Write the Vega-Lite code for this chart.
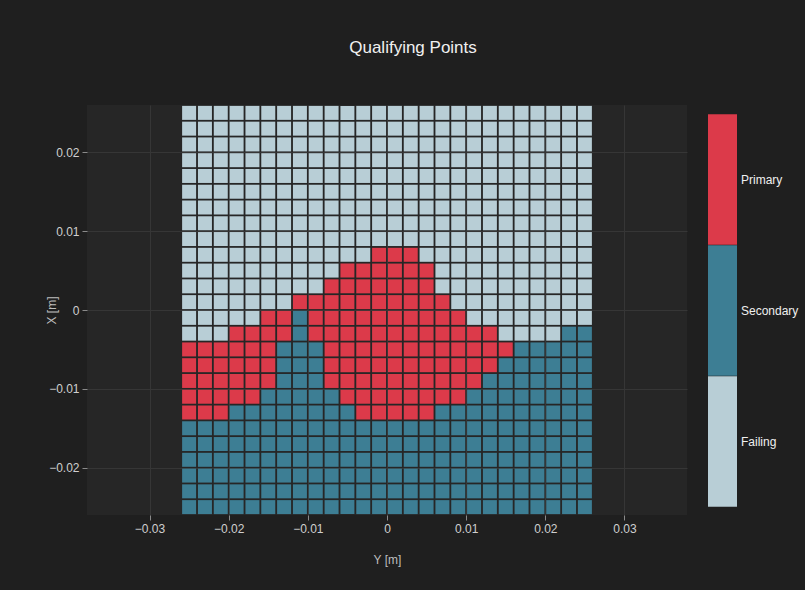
{
"$schema": "https://vega.github.io/schema/vega-lite/v6.json",
"autosize": "none",
"width": 600,
"height": 410,
"padding": {"left": 87, "top": 105, "right": 118, "bottom": 75},
"background": "#1f1f1f",
"title": {"text": "Qualifying Points", "fontSize": 17, "color": "#f0f0f0", "font": "Liberation Sans", "fontWeight": "normal", "anchor": "middle", "frame": "group", "dx": 26, "offset": 48},
"config": {"view": {"fill": "#262626", "stroke": null}, "font": "Liberation Sans"},
"data": {"values": [
{"Y":-0.025,"X":-0.025,"status":"Secondary"},{"Y":-0.023,"X":-0.025,"status":"Secondary"},{"Y":-0.021,"X":-0.025,"status":"Secondary"},{"Y":-0.019,"X":-0.025,"status":"Secondary"},{"Y":-0.017,"X":-0.025,"status":"Secondary"},{"Y":-0.015,"X":-0.025,"status":"Secondary"},{"Y":-0.013,"X":-0.025,"status":"Secondary"},{"Y":-0.011,"X":-0.025,"status":"Secondary"},{"Y":-0.009,"X":-0.025,"status":"Secondary"},{"Y":-0.007,"X":-0.025,"status":"Secondary"},{"Y":-0.005,"X":-0.025,"status":"Secondary"},{"Y":-0.003,"X":-0.025,"status":"Secondary"},{"Y":-0.001,"X":-0.025,"status":"Secondary"},{"Y":0.001,"X":-0.025,"status":"Secondary"},{"Y":0.003,"X":-0.025,"status":"Secondary"},{"Y":0.005,"X":-0.025,"status":"Secondary"},{"Y":0.007,"X":-0.025,"status":"Secondary"},{"Y":0.009,"X":-0.025,"status":"Secondary"},{"Y":0.011,"X":-0.025,"status":"Secondary"},{"Y":0.013,"X":-0.025,"status":"Secondary"},{"Y":0.015,"X":-0.025,"status":"Secondary"},{"Y":0.017,"X":-0.025,"status":"Secondary"},{"Y":0.019,"X":-0.025,"status":"Secondary"},{"Y":0.021,"X":-0.025,"status":"Secondary"},{"Y":0.023,"X":-0.025,"status":"Secondary"},{"Y":0.025,"X":-0.025,"status":"Secondary"},
{"Y":-0.025,"X":-0.023,"status":"Secondary"},{"Y":-0.023,"X":-0.023,"status":"Secondary"},{"Y":-0.021,"X":-0.023,"status":"Secondary"},{"Y":-0.019,"X":-0.023,"status":"Secondary"},{"Y":-0.017,"X":-0.023,"status":"Secondary"},{"Y":-0.015,"X":-0.023,"status":"Secondary"},{"Y":-0.013,"X":-0.023,"status":"Secondary"},{"Y":-0.011,"X":-0.023,"status":"Secondary"},{"Y":-0.009,"X":-0.023,"status":"Secondary"},{"Y":-0.007,"X":-0.023,"status":"Secondary"},{"Y":-0.005,"X":-0.023,"status":"Secondary"},{"Y":-0.003,"X":-0.023,"status":"Secondary"},{"Y":-0.001,"X":-0.023,"status":"Secondary"},{"Y":0.001,"X":-0.023,"status":"Secondary"},{"Y":0.003,"X":-0.023,"status":"Secondary"},{"Y":0.005,"X":-0.023,"status":"Secondary"},{"Y":0.007,"X":-0.023,"status":"Secondary"},{"Y":0.009,"X":-0.023,"status":"Secondary"},{"Y":0.011,"X":-0.023,"status":"Secondary"},{"Y":0.013,"X":-0.023,"status":"Secondary"},{"Y":0.015,"X":-0.023,"status":"Secondary"},{"Y":0.017,"X":-0.023,"status":"Secondary"},{"Y":0.019,"X":-0.023,"status":"Secondary"},{"Y":0.021,"X":-0.023,"status":"Secondary"},{"Y":0.023,"X":-0.023,"status":"Secondary"},{"Y":0.025,"X":-0.023,"status":"Secondary"},
{"Y":-0.025,"X":-0.021,"status":"Secondary"},{"Y":-0.023,"X":-0.021,"status":"Secondary"},{"Y":-0.021,"X":-0.021,"status":"Secondary"},{"Y":-0.019,"X":-0.021,"status":"Secondary"},{"Y":-0.017,"X":-0.021,"status":"Secondary"},{"Y":-0.015,"X":-0.021,"status":"Secondary"},{"Y":-0.013,"X":-0.021,"status":"Secondary"},{"Y":-0.011,"X":-0.021,"status":"Secondary"},{"Y":-0.009,"X":-0.021,"status":"Secondary"},{"Y":-0.007,"X":-0.021,"status":"Secondary"},{"Y":-0.005,"X":-0.021,"status":"Secondary"},{"Y":-0.003,"X":-0.021,"status":"Secondary"},{"Y":-0.001,"X":-0.021,"status":"Secondary"},{"Y":0.001,"X":-0.021,"status":"Secondary"},{"Y":0.003,"X":-0.021,"status":"Secondary"},{"Y":0.005,"X":-0.021,"status":"Secondary"},{"Y":0.007,"X":-0.021,"status":"Secondary"},{"Y":0.009,"X":-0.021,"status":"Secondary"},{"Y":0.011,"X":-0.021,"status":"Secondary"},{"Y":0.013,"X":-0.021,"status":"Secondary"},{"Y":0.015,"X":-0.021,"status":"Secondary"},{"Y":0.017,"X":-0.021,"status":"Secondary"},{"Y":0.019,"X":-0.021,"status":"Secondary"},{"Y":0.021,"X":-0.021,"status":"Secondary"},{"Y":0.023,"X":-0.021,"status":"Secondary"},{"Y":0.025,"X":-0.021,"status":"Secondary"},
{"Y":-0.025,"X":-0.019,"status":"Secondary"},{"Y":-0.023,"X":-0.019,"status":"Secondary"},{"Y":-0.021,"X":-0.019,"status":"Secondary"},{"Y":-0.019,"X":-0.019,"status":"Secondary"},{"Y":-0.017,"X":-0.019,"status":"Secondary"},{"Y":-0.015,"X":-0.019,"status":"Secondary"},{"Y":-0.013,"X":-0.019,"status":"Secondary"},{"Y":-0.011,"X":-0.019,"status":"Secondary"},{"Y":-0.009,"X":-0.019,"status":"Secondary"},{"Y":-0.007,"X":-0.019,"status":"Secondary"},{"Y":-0.005,"X":-0.019,"status":"Secondary"},{"Y":-0.003,"X":-0.019,"status":"Secondary"},{"Y":-0.001,"X":-0.019,"status":"Secondary"},{"Y":0.001,"X":-0.019,"status":"Secondary"},{"Y":0.003,"X":-0.019,"status":"Secondary"},{"Y":0.005,"X":-0.019,"status":"Secondary"},{"Y":0.007,"X":-0.019,"status":"Secondary"},{"Y":0.009,"X":-0.019,"status":"Secondary"},{"Y":0.011,"X":-0.019,"status":"Secondary"},{"Y":0.013,"X":-0.019,"status":"Secondary"},{"Y":0.015,"X":-0.019,"status":"Secondary"},{"Y":0.017,"X":-0.019,"status":"Secondary"},{"Y":0.019,"X":-0.019,"status":"Secondary"},{"Y":0.021,"X":-0.019,"status":"Secondary"},{"Y":0.023,"X":-0.019,"status":"Secondary"},{"Y":0.025,"X":-0.019,"status":"Secondary"},
{"Y":-0.025,"X":-0.017,"status":"Secondary"},{"Y":-0.023,"X":-0.017,"status":"Secondary"},{"Y":-0.021,"X":-0.017,"status":"Secondary"},{"Y":-0.019,"X":-0.017,"status":"Secondary"},{"Y":-0.017,"X":-0.017,"status":"Secondary"},{"Y":-0.015,"X":-0.017,"status":"Secondary"},{"Y":-0.013,"X":-0.017,"status":"Secondary"},{"Y":-0.011,"X":-0.017,"status":"Secondary"},{"Y":-0.009,"X":-0.017,"status":"Secondary"},{"Y":-0.007,"X":-0.017,"status":"Secondary"},{"Y":-0.005,"X":-0.017,"status":"Secondary"},{"Y":-0.003,"X":-0.017,"status":"Secondary"},{"Y":-0.001,"X":-0.017,"status":"Secondary"},{"Y":0.001,"X":-0.017,"status":"Secondary"},{"Y":0.003,"X":-0.017,"status":"Secondary"},{"Y":0.005,"X":-0.017,"status":"Secondary"},{"Y":0.007,"X":-0.017,"status":"Secondary"},{"Y":0.009,"X":-0.017,"status":"Secondary"},{"Y":0.011,"X":-0.017,"status":"Secondary"},{"Y":0.013,"X":-0.017,"status":"Secondary"},{"Y":0.015,"X":-0.017,"status":"Secondary"},{"Y":0.017,"X":-0.017,"status":"Secondary"},{"Y":0.019,"X":-0.017,"status":"Secondary"},{"Y":0.021,"X":-0.017,"status":"Secondary"},{"Y":0.023,"X":-0.017,"status":"Secondary"},{"Y":0.025,"X":-0.017,"status":"Secondary"},
{"Y":-0.025,"X":-0.015,"status":"Secondary"},{"Y":-0.023,"X":-0.015,"status":"Secondary"},{"Y":-0.021,"X":-0.015,"status":"Secondary"},{"Y":-0.019,"X":-0.015,"status":"Secondary"},{"Y":-0.017,"X":-0.015,"status":"Secondary"},{"Y":-0.015,"X":-0.015,"status":"Secondary"},{"Y":-0.013,"X":-0.015,"status":"Secondary"},{"Y":-0.011,"X":-0.015,"status":"Secondary"},{"Y":-0.009,"X":-0.015,"status":"Secondary"},{"Y":-0.007,"X":-0.015,"status":"Secondary"},{"Y":-0.005,"X":-0.015,"status":"Secondary"},{"Y":-0.003,"X":-0.015,"status":"Secondary"},{"Y":-0.001,"X":-0.015,"status":"Secondary"},{"Y":0.001,"X":-0.015,"status":"Secondary"},{"Y":0.003,"X":-0.015,"status":"Secondary"},{"Y":0.005,"X":-0.015,"status":"Secondary"},{"Y":0.007,"X":-0.015,"status":"Secondary"},{"Y":0.009,"X":-0.015,"status":"Secondary"},{"Y":0.011,"X":-0.015,"status":"Secondary"},{"Y":0.013,"X":-0.015,"status":"Secondary"},{"Y":0.015,"X":-0.015,"status":"Secondary"},{"Y":0.017,"X":-0.015,"status":"Secondary"},{"Y":0.019,"X":-0.015,"status":"Secondary"},{"Y":0.021,"X":-0.015,"status":"Secondary"},{"Y":0.023,"X":-0.015,"status":"Secondary"},{"Y":0.025,"X":-0.015,"status":"Secondary"},
{"Y":-0.025,"X":-0.013,"status":"Primary"},{"Y":-0.023,"X":-0.013,"status":"Primary"},{"Y":-0.021,"X":-0.013,"status":"Primary"},{"Y":-0.019,"X":-0.013,"status":"Secondary"},{"Y":-0.017,"X":-0.013,"status":"Secondary"},{"Y":-0.015,"X":-0.013,"status":"Secondary"},{"Y":-0.013,"X":-0.013,"status":"Secondary"},{"Y":-0.011,"X":-0.013,"status":"Secondary"},{"Y":-0.009,"X":-0.013,"status":"Secondary"},{"Y":-0.007,"X":-0.013,"status":"Secondary"},{"Y":-0.005,"X":-0.013,"status":"Secondary"},{"Y":-0.003,"X":-0.013,"status":"Primary"},{"Y":-0.001,"X":-0.013,"status":"Primary"},{"Y":0.001,"X":-0.013,"status":"Primary"},{"Y":0.003,"X":-0.013,"status":"Primary"},{"Y":0.005,"X":-0.013,"status":"Primary"},{"Y":0.007,"X":-0.013,"status":"Secondary"},{"Y":0.009,"X":-0.013,"status":"Secondary"},{"Y":0.011,"X":-0.013,"status":"Secondary"},{"Y":0.013,"X":-0.013,"status":"Secondary"},{"Y":0.015,"X":-0.013,"status":"Secondary"},{"Y":0.017,"X":-0.013,"status":"Secondary"},{"Y":0.019,"X":-0.013,"status":"Secondary"},{"Y":0.021,"X":-0.013,"status":"Secondary"},{"Y":0.023,"X":-0.013,"status":"Secondary"},{"Y":0.025,"X":-0.013,"status":"Secondary"},
{"Y":-0.025,"X":-0.011,"status":"Primary"},{"Y":-0.023,"X":-0.011,"status":"Primary"},{"Y":-0.021,"X":-0.011,"status":"Primary"},{"Y":-0.019,"X":-0.011,"status":"Primary"},{"Y":-0.017,"X":-0.011,"status":"Primary"},{"Y":-0.015,"X":-0.011,"status":"Secondary"},{"Y":-0.013,"X":-0.011,"status":"Secondary"},{"Y":-0.011,"X":-0.011,"status":"Secondary"},{"Y":-0.009,"X":-0.011,"status":"Secondary"},{"Y":-0.007,"X":-0.011,"status":"Secondary"},{"Y":-0.005,"X":-0.011,"status":"Primary"},{"Y":-0.003,"X":-0.011,"status":"Primary"},{"Y":-0.001,"X":-0.011,"status":"Primary"},{"Y":0.001,"X":-0.011,"status":"Primary"},{"Y":0.003,"X":-0.011,"status":"Primary"},{"Y":0.005,"X":-0.011,"status":"Primary"},{"Y":0.007,"X":-0.011,"status":"Primary"},{"Y":0.009,"X":-0.011,"status":"Primary"},{"Y":0.011,"X":-0.011,"status":"Secondary"},{"Y":0.013,"X":-0.011,"status":"Secondary"},{"Y":0.015,"X":-0.011,"status":"Secondary"},{"Y":0.017,"X":-0.011,"status":"Secondary"},{"Y":0.019,"X":-0.011,"status":"Secondary"},{"Y":0.021,"X":-0.011,"status":"Secondary"},{"Y":0.023,"X":-0.011,"status":"Secondary"},{"Y":0.025,"X":-0.011,"status":"Secondary"},
{"Y":-0.025,"X":-0.009,"status":"Primary"},{"Y":-0.023,"X":-0.009,"status":"Primary"},{"Y":-0.021,"X":-0.009,"status":"Primary"},{"Y":-0.019,"X":-0.009,"status":"Primary"},{"Y":-0.017,"X":-0.009,"status":"Primary"},{"Y":-0.015,"X":-0.009,"status":"Primary"},{"Y":-0.013,"X":-0.009,"status":"Secondary"},{"Y":-0.011,"X":-0.009,"status":"Secondary"},{"Y":-0.009,"X":-0.009,"status":"Secondary"},{"Y":-0.007,"X":-0.009,"status":"Primary"},{"Y":-0.005,"X":-0.009,"status":"Primary"},{"Y":-0.003,"X":-0.009,"status":"Primary"},{"Y":-0.001,"X":-0.009,"status":"Primary"},{"Y":0.001,"X":-0.009,"status":"Primary"},{"Y":0.003,"X":-0.009,"status":"Primary"},{"Y":0.005,"X":-0.009,"status":"Primary"},{"Y":0.007,"X":-0.009,"status":"Primary"},{"Y":0.009,"X":-0.009,"status":"Primary"},{"Y":0.011,"X":-0.009,"status":"Primary"},{"Y":0.013,"X":-0.009,"status":"Secondary"},{"Y":0.015,"X":-0.009,"status":"Secondary"},{"Y":0.017,"X":-0.009,"status":"Secondary"},{"Y":0.019,"X":-0.009,"status":"Secondary"},{"Y":0.021,"X":-0.009,"status":"Secondary"},{"Y":0.023,"X":-0.009,"status":"Secondary"},{"Y":0.025,"X":-0.009,"status":"Secondary"},
{"Y":-0.025,"X":-0.007,"status":"Primary"},{"Y":-0.023,"X":-0.007,"status":"Primary"},{"Y":-0.021,"X":-0.007,"status":"Primary"},{"Y":-0.019,"X":-0.007,"status":"Primary"},{"Y":-0.017,"X":-0.007,"status":"Primary"},{"Y":-0.015,"X":-0.007,"status":"Primary"},{"Y":-0.013,"X":-0.007,"status":"Secondary"},{"Y":-0.011,"X":-0.007,"status":"Secondary"},{"Y":-0.009,"X":-0.007,"status":"Secondary"},{"Y":-0.007,"X":-0.007,"status":"Primary"},{"Y":-0.005,"X":-0.007,"status":"Primary"},{"Y":-0.003,"X":-0.007,"status":"Primary"},{"Y":-0.001,"X":-0.007,"status":"Primary"},{"Y":0.001,"X":-0.007,"status":"Primary"},{"Y":0.003,"X":-0.007,"status":"Primary"},{"Y":0.005,"X":-0.007,"status":"Primary"},{"Y":0.007,"X":-0.007,"status":"Primary"},{"Y":0.009,"X":-0.007,"status":"Primary"},{"Y":0.011,"X":-0.007,"status":"Primary"},{"Y":0.013,"X":-0.007,"status":"Primary"},{"Y":0.015,"X":-0.007,"status":"Secondary"},{"Y":0.017,"X":-0.007,"status":"Secondary"},{"Y":0.019,"X":-0.007,"status":"Secondary"},{"Y":0.021,"X":-0.007,"status":"Secondary"},{"Y":0.023,"X":-0.007,"status":"Secondary"},{"Y":0.025,"X":-0.007,"status":"Secondary"},
{"Y":-0.025,"X":-0.005,"status":"Primary"},{"Y":-0.023,"X":-0.005,"status":"Primary"},{"Y":-0.021,"X":-0.005,"status":"Primary"},{"Y":-0.019,"X":-0.005,"status":"Primary"},{"Y":-0.017,"X":-0.005,"status":"Primary"},{"Y":-0.015,"X":-0.005,"status":"Primary"},{"Y":-0.013,"X":-0.005,"status":"Secondary"},{"Y":-0.011,"X":-0.005,"status":"Secondary"},{"Y":-0.009,"X":-0.005,"status":"Secondary"},{"Y":-0.007,"X":-0.005,"status":"Primary"},{"Y":-0.005,"X":-0.005,"status":"Primary"},{"Y":-0.003,"X":-0.005,"status":"Primary"},{"Y":-0.001,"X":-0.005,"status":"Primary"},{"Y":0.001,"X":-0.005,"status":"Primary"},{"Y":0.003,"X":-0.005,"status":"Primary"},{"Y":0.005,"X":-0.005,"status":"Primary"},{"Y":0.007,"X":-0.005,"status":"Primary"},{"Y":0.009,"X":-0.005,"status":"Primary"},{"Y":0.011,"X":-0.005,"status":"Primary"},{"Y":0.013,"X":-0.005,"status":"Primary"},{"Y":0.015,"X":-0.005,"status":"Primary"},{"Y":0.017,"X":-0.005,"status":"Secondary"},{"Y":0.019,"X":-0.005,"status":"Secondary"},{"Y":0.021,"X":-0.005,"status":"Secondary"},{"Y":0.023,"X":-0.005,"status":"Secondary"},{"Y":0.025,"X":-0.005,"status":"Secondary"},
{"Y":-0.025,"X":-0.003,"status":"Failing"},{"Y":-0.023,"X":-0.003,"status":"Failing"},{"Y":-0.021,"X":-0.003,"status":"Failing"},{"Y":-0.019,"X":-0.003,"status":"Primary"},{"Y":-0.017,"X":-0.003,"status":"Primary"},{"Y":-0.015,"X":-0.003,"status":"Primary"},{"Y":-0.013,"X":-0.003,"status":"Primary"},{"Y":-0.011,"X":-0.003,"status":"Secondary"},{"Y":-0.009,"X":-0.003,"status":"Primary"},{"Y":-0.007,"X":-0.003,"status":"Primary"},{"Y":-0.005,"X":-0.003,"status":"Primary"},{"Y":-0.003,"X":-0.003,"status":"Primary"},{"Y":-0.001,"X":-0.003,"status":"Primary"},{"Y":0.001,"X":-0.003,"status":"Primary"},{"Y":0.003,"X":-0.003,"status":"Primary"},{"Y":0.005,"X":-0.003,"status":"Primary"},{"Y":0.007,"X":-0.003,"status":"Primary"},{"Y":0.009,"X":-0.003,"status":"Primary"},{"Y":0.011,"X":-0.003,"status":"Primary"},{"Y":0.013,"X":-0.003,"status":"Primary"},{"Y":0.015,"X":-0.003,"status":"Failing"},{"Y":0.017,"X":-0.003,"status":"Failing"},{"Y":0.019,"X":-0.003,"status":"Failing"},{"Y":0.021,"X":-0.003,"status":"Failing"},{"Y":0.023,"X":-0.003,"status":"Secondary"},{"Y":0.025,"X":-0.003,"status":"Secondary"},
{"Y":-0.025,"X":-0.001,"status":"Failing"},{"Y":-0.023,"X":-0.001,"status":"Failing"},{"Y":-0.021,"X":-0.001,"status":"Failing"},{"Y":-0.019,"X":-0.001,"status":"Failing"},{"Y":-0.017,"X":-0.001,"status":"Failing"},{"Y":-0.015,"X":-0.001,"status":"Primary"},{"Y":-0.013,"X":-0.001,"status":"Primary"},{"Y":-0.011,"X":-0.001,"status":"Secondary"},{"Y":-0.009,"X":-0.001,"status":"Primary"},{"Y":-0.007,"X":-0.001,"status":"Primary"},{"Y":-0.005,"X":-0.001,"status":"Primary"},{"Y":-0.003,"X":-0.001,"status":"Primary"},{"Y":-0.001,"X":-0.001,"status":"Primary"},{"Y":0.001,"X":-0.001,"status":"Primary"},{"Y":0.003,"X":-0.001,"status":"Primary"},{"Y":0.005,"X":-0.001,"status":"Primary"},{"Y":0.007,"X":-0.001,"status":"Primary"},{"Y":0.009,"X":-0.001,"status":"Primary"},{"Y":0.011,"X":-0.001,"status":"Failing"},{"Y":0.013,"X":-0.001,"status":"Failing"},{"Y":0.015,"X":-0.001,"status":"Failing"},{"Y":0.017,"X":-0.001,"status":"Failing"},{"Y":0.019,"X":-0.001,"status":"Failing"},{"Y":0.021,"X":-0.001,"status":"Failing"},{"Y":0.023,"X":-0.001,"status":"Failing"},{"Y":0.025,"X":-0.001,"status":"Failing"},
{"Y":-0.025,"X":0.001,"status":"Failing"},{"Y":-0.023,"X":0.001,"status":"Failing"},{"Y":-0.021,"X":0.001,"status":"Failing"},{"Y":-0.019,"X":0.001,"status":"Failing"},{"Y":-0.017,"X":0.001,"status":"Failing"},{"Y":-0.015,"X":0.001,"status":"Failing"},{"Y":-0.013,"X":0.001,"status":"Failing"},{"Y":-0.011,"X":0.001,"status":"Primary"},{"Y":-0.009,"X":0.001,"status":"Primary"},{"Y":-0.007,"X":0.001,"status":"Primary"},{"Y":-0.005,"X":0.001,"status":"Primary"},{"Y":-0.003,"X":0.001,"status":"Primary"},{"Y":-0.001,"X":0.001,"status":"Primary"},{"Y":0.001,"X":0.001,"status":"Primary"},{"Y":0.003,"X":0.001,"status":"Primary"},{"Y":0.005,"X":0.001,"status":"Primary"},{"Y":0.007,"X":0.001,"status":"Primary"},{"Y":0.009,"X":0.001,"status":"Failing"},{"Y":0.011,"X":0.001,"status":"Failing"},{"Y":0.013,"X":0.001,"status":"Failing"},{"Y":0.015,"X":0.001,"status":"Failing"},{"Y":0.017,"X":0.001,"status":"Failing"},{"Y":0.019,"X":0.001,"status":"Failing"},{"Y":0.021,"X":0.001,"status":"Failing"},{"Y":0.023,"X":0.001,"status":"Failing"},{"Y":0.025,"X":0.001,"status":"Failing"},
{"Y":-0.025,"X":0.003,"status":"Failing"},{"Y":-0.023,"X":0.003,"status":"Failing"},{"Y":-0.021,"X":0.003,"status":"Failing"},{"Y":-0.019,"X":0.003,"status":"Failing"},{"Y":-0.017,"X":0.003,"status":"Failing"},{"Y":-0.015,"X":0.003,"status":"Failing"},{"Y":-0.013,"X":0.003,"status":"Failing"},{"Y":-0.011,"X":0.003,"status":"Failing"},{"Y":-0.009,"X":0.003,"status":"Failing"},{"Y":-0.007,"X":0.003,"status":"Primary"},{"Y":-0.005,"X":0.003,"status":"Primary"},{"Y":-0.003,"X":0.003,"status":"Primary"},{"Y":-0.001,"X":0.003,"status":"Primary"},{"Y":0.001,"X":0.003,"status":"Primary"},{"Y":0.003,"X":0.003,"status":"Primary"},{"Y":0.005,"X":0.003,"status":"Primary"},{"Y":0.007,"X":0.003,"status":"Failing"},{"Y":0.009,"X":0.003,"status":"Failing"},{"Y":0.011,"X":0.003,"status":"Failing"},{"Y":0.013,"X":0.003,"status":"Failing"},{"Y":0.015,"X":0.003,"status":"Failing"},{"Y":0.017,"X":0.003,"status":"Failing"},{"Y":0.019,"X":0.003,"status":"Failing"},{"Y":0.021,"X":0.003,"status":"Failing"},{"Y":0.023,"X":0.003,"status":"Failing"},{"Y":0.025,"X":0.003,"status":"Failing"},
{"Y":-0.025,"X":0.005,"status":"Failing"},{"Y":-0.023,"X":0.005,"status":"Failing"},{"Y":-0.021,"X":0.005,"status":"Failing"},{"Y":-0.019,"X":0.005,"status":"Failing"},{"Y":-0.017,"X":0.005,"status":"Failing"},{"Y":-0.015,"X":0.005,"status":"Failing"},{"Y":-0.013,"X":0.005,"status":"Failing"},{"Y":-0.011,"X":0.005,"status":"Failing"},{"Y":-0.009,"X":0.005,"status":"Failing"},{"Y":-0.007,"X":0.005,"status":"Failing"},{"Y":-0.005,"X":0.005,"status":"Primary"},{"Y":-0.003,"X":0.005,"status":"Primary"},{"Y":-0.001,"X":0.005,"status":"Primary"},{"Y":0.001,"X":0.005,"status":"Primary"},{"Y":0.003,"X":0.005,"status":"Primary"},{"Y":0.005,"X":0.005,"status":"Primary"},{"Y":0.007,"X":0.005,"status":"Failing"},{"Y":0.009,"X":0.005,"status":"Failing"},{"Y":0.011,"X":0.005,"status":"Failing"},{"Y":0.013,"X":0.005,"status":"Failing"},{"Y":0.015,"X":0.005,"status":"Failing"},{"Y":0.017,"X":0.005,"status":"Failing"},{"Y":0.019,"X":0.005,"status":"Failing"},{"Y":0.021,"X":0.005,"status":"Failing"},{"Y":0.023,"X":0.005,"status":"Failing"},{"Y":0.025,"X":0.005,"status":"Failing"},
{"Y":-0.025,"X":0.007,"status":"Failing"},{"Y":-0.023,"X":0.007,"status":"Failing"},{"Y":-0.021,"X":0.007,"status":"Failing"},{"Y":-0.019,"X":0.007,"status":"Failing"},{"Y":-0.017,"X":0.007,"status":"Failing"},{"Y":-0.015,"X":0.007,"status":"Failing"},{"Y":-0.013,"X":0.007,"status":"Failing"},{"Y":-0.011,"X":0.007,"status":"Failing"},{"Y":-0.009,"X":0.007,"status":"Failing"},{"Y":-0.007,"X":0.007,"status":"Failing"},{"Y":-0.005,"X":0.007,"status":"Failing"},{"Y":-0.003,"X":0.007,"status":"Failing"},{"Y":-0.001,"X":0.007,"status":"Primary"},{"Y":0.001,"X":0.007,"status":"Primary"},{"Y":0.003,"X":0.007,"status":"Primary"},{"Y":0.005,"X":0.007,"status":"Failing"},{"Y":0.007,"X":0.007,"status":"Failing"},{"Y":0.009,"X":0.007,"status":"Failing"},{"Y":0.011,"X":0.007,"status":"Failing"},{"Y":0.013,"X":0.007,"status":"Failing"},{"Y":0.015,"X":0.007,"status":"Failing"},{"Y":0.017,"X":0.007,"status":"Failing"},{"Y":0.019,"X":0.007,"status":"Failing"},{"Y":0.021,"X":0.007,"status":"Failing"},{"Y":0.023,"X":0.007,"status":"Failing"},{"Y":0.025,"X":0.007,"status":"Failing"},
{"Y":-0.025,"X":0.009,"status":"Failing"},{"Y":-0.023,"X":0.009,"status":"Failing"},{"Y":-0.021,"X":0.009,"status":"Failing"},{"Y":-0.019,"X":0.009,"status":"Failing"},{"Y":-0.017,"X":0.009,"status":"Failing"},{"Y":-0.015,"X":0.009,"status":"Failing"},{"Y":-0.013,"X":0.009,"status":"Failing"},{"Y":-0.011,"X":0.009,"status":"Failing"},{"Y":-0.009,"X":0.009,"status":"Failing"},{"Y":-0.007,"X":0.009,"status":"Failing"},{"Y":-0.005,"X":0.009,"status":"Failing"},{"Y":-0.003,"X":0.009,"status":"Failing"},{"Y":-0.001,"X":0.009,"status":"Failing"},{"Y":0.001,"X":0.009,"status":"Failing"},{"Y":0.003,"X":0.009,"status":"Failing"},{"Y":0.005,"X":0.009,"status":"Failing"},{"Y":0.007,"X":0.009,"status":"Failing"},{"Y":0.009,"X":0.009,"status":"Failing"},{"Y":0.011,"X":0.009,"status":"Failing"},{"Y":0.013,"X":0.009,"status":"Failing"},{"Y":0.015,"X":0.009,"status":"Failing"},{"Y":0.017,"X":0.009,"status":"Failing"},{"Y":0.019,"X":0.009,"status":"Failing"},{"Y":0.021,"X":0.009,"status":"Failing"},{"Y":0.023,"X":0.009,"status":"Failing"},{"Y":0.025,"X":0.009,"status":"Failing"},
{"Y":-0.025,"X":0.011,"status":"Failing"},{"Y":-0.023,"X":0.011,"status":"Failing"},{"Y":-0.021,"X":0.011,"status":"Failing"},{"Y":-0.019,"X":0.011,"status":"Failing"},{"Y":-0.017,"X":0.011,"status":"Failing"},{"Y":-0.015,"X":0.011,"status":"Failing"},{"Y":-0.013,"X":0.011,"status":"Failing"},{"Y":-0.011,"X":0.011,"status":"Failing"},{"Y":-0.009,"X":0.011,"status":"Failing"},{"Y":-0.007,"X":0.011,"status":"Failing"},{"Y":-0.005,"X":0.011,"status":"Failing"},{"Y":-0.003,"X":0.011,"status":"Failing"},{"Y":-0.001,"X":0.011,"status":"Failing"},{"Y":0.001,"X":0.011,"status":"Failing"},{"Y":0.003,"X":0.011,"status":"Failing"},{"Y":0.005,"X":0.011,"status":"Failing"},{"Y":0.007,"X":0.011,"status":"Failing"},{"Y":0.009,"X":0.011,"status":"Failing"},{"Y":0.011,"X":0.011,"status":"Failing"},{"Y":0.013,"X":0.011,"status":"Failing"},{"Y":0.015,"X":0.011,"status":"Failing"},{"Y":0.017,"X":0.011,"status":"Failing"},{"Y":0.019,"X":0.011,"status":"Failing"},{"Y":0.021,"X":0.011,"status":"Failing"},{"Y":0.023,"X":0.011,"status":"Failing"},{"Y":0.025,"X":0.011,"status":"Failing"},
{"Y":-0.025,"X":0.013,"status":"Failing"},{"Y":-0.023,"X":0.013,"status":"Failing"},{"Y":-0.021,"X":0.013,"status":"Failing"},{"Y":-0.019,"X":0.013,"status":"Failing"},{"Y":-0.017,"X":0.013,"status":"Failing"},{"Y":-0.015,"X":0.013,"status":"Failing"},{"Y":-0.013,"X":0.013,"status":"Failing"},{"Y":-0.011,"X":0.013,"status":"Failing"},{"Y":-0.009,"X":0.013,"status":"Failing"},{"Y":-0.007,"X":0.013,"status":"Failing"},{"Y":-0.005,"X":0.013,"status":"Failing"},{"Y":-0.003,"X":0.013,"status":"Failing"},{"Y":-0.001,"X":0.013,"status":"Failing"},{"Y":0.001,"X":0.013,"status":"Failing"},{"Y":0.003,"X":0.013,"status":"Failing"},{"Y":0.005,"X":0.013,"status":"Failing"},{"Y":0.007,"X":0.013,"status":"Failing"},{"Y":0.009,"X":0.013,"status":"Failing"},{"Y":0.011,"X":0.013,"status":"Failing"},{"Y":0.013,"X":0.013,"status":"Failing"},{"Y":0.015,"X":0.013,"status":"Failing"},{"Y":0.017,"X":0.013,"status":"Failing"},{"Y":0.019,"X":0.013,"status":"Failing"},{"Y":0.021,"X":0.013,"status":"Failing"},{"Y":0.023,"X":0.013,"status":"Failing"},{"Y":0.025,"X":0.013,"status":"Failing"},
{"Y":-0.025,"X":0.015,"status":"Failing"},{"Y":-0.023,"X":0.015,"status":"Failing"},{"Y":-0.021,"X":0.015,"status":"Failing"},{"Y":-0.019,"X":0.015,"status":"Failing"},{"Y":-0.017,"X":0.015,"status":"Failing"},{"Y":-0.015,"X":0.015,"status":"Failing"},{"Y":-0.013,"X":0.015,"status":"Failing"},{"Y":-0.011,"X":0.015,"status":"Failing"},{"Y":-0.009,"X":0.015,"status":"Failing"},{"Y":-0.007,"X":0.015,"status":"Failing"},{"Y":-0.005,"X":0.015,"status":"Failing"},{"Y":-0.003,"X":0.015,"status":"Failing"},{"Y":-0.001,"X":0.015,"status":"Failing"},{"Y":0.001,"X":0.015,"status":"Failing"},{"Y":0.003,"X":0.015,"status":"Failing"},{"Y":0.005,"X":0.015,"status":"Failing"},{"Y":0.007,"X":0.015,"status":"Failing"},{"Y":0.009,"X":0.015,"status":"Failing"},{"Y":0.011,"X":0.015,"status":"Failing"},{"Y":0.013,"X":0.015,"status":"Failing"},{"Y":0.015,"X":0.015,"status":"Failing"},{"Y":0.017,"X":0.015,"status":"Failing"},{"Y":0.019,"X":0.015,"status":"Failing"},{"Y":0.021,"X":0.015,"status":"Failing"},{"Y":0.023,"X":0.015,"status":"Failing"},{"Y":0.025,"X":0.015,"status":"Failing"},
{"Y":-0.025,"X":0.017,"status":"Failing"},{"Y":-0.023,"X":0.017,"status":"Failing"},{"Y":-0.021,"X":0.017,"status":"Failing"},{"Y":-0.019,"X":0.017,"status":"Failing"},{"Y":-0.017,"X":0.017,"status":"Failing"},{"Y":-0.015,"X":0.017,"status":"Failing"},{"Y":-0.013,"X":0.017,"status":"Failing"},{"Y":-0.011,"X":0.017,"status":"Failing"},{"Y":-0.009,"X":0.017,"status":"Failing"},{"Y":-0.007,"X":0.017,"status":"Failing"},{"Y":-0.005,"X":0.017,"status":"Failing"},{"Y":-0.003,"X":0.017,"status":"Failing"},{"Y":-0.001,"X":0.017,"status":"Failing"},{"Y":0.001,"X":0.017,"status":"Failing"},{"Y":0.003,"X":0.017,"status":"Failing"},{"Y":0.005,"X":0.017,"status":"Failing"},{"Y":0.007,"X":0.017,"status":"Failing"},{"Y":0.009,"X":0.017,"status":"Failing"},{"Y":0.011,"X":0.017,"status":"Failing"},{"Y":0.013,"X":0.017,"status":"Failing"},{"Y":0.015,"X":0.017,"status":"Failing"},{"Y":0.017,"X":0.017,"status":"Failing"},{"Y":0.019,"X":0.017,"status":"Failing"},{"Y":0.021,"X":0.017,"status":"Failing"},{"Y":0.023,"X":0.017,"status":"Failing"},{"Y":0.025,"X":0.017,"status":"Failing"},
{"Y":-0.025,"X":0.019,"status":"Failing"},{"Y":-0.023,"X":0.019,"status":"Failing"},{"Y":-0.021,"X":0.019,"status":"Failing"},{"Y":-0.019,"X":0.019,"status":"Failing"},{"Y":-0.017,"X":0.019,"status":"Failing"},{"Y":-0.015,"X":0.019,"status":"Failing"},{"Y":-0.013,"X":0.019,"status":"Failing"},{"Y":-0.011,"X":0.019,"status":"Failing"},{"Y":-0.009,"X":0.019,"status":"Failing"},{"Y":-0.007,"X":0.019,"status":"Failing"},{"Y":-0.005,"X":0.019,"status":"Failing"},{"Y":-0.003,"X":0.019,"status":"Failing"},{"Y":-0.001,"X":0.019,"status":"Failing"},{"Y":0.001,"X":0.019,"status":"Failing"},{"Y":0.003,"X":0.019,"status":"Failing"},{"Y":0.005,"X":0.019,"status":"Failing"},{"Y":0.007,"X":0.019,"status":"Failing"},{"Y":0.009,"X":0.019,"status":"Failing"},{"Y":0.011,"X":0.019,"status":"Failing"},{"Y":0.013,"X":0.019,"status":"Failing"},{"Y":0.015,"X":0.019,"status":"Failing"},{"Y":0.017,"X":0.019,"status":"Failing"},{"Y":0.019,"X":0.019,"status":"Failing"},{"Y":0.021,"X":0.019,"status":"Failing"},{"Y":0.023,"X":0.019,"status":"Failing"},{"Y":0.025,"X":0.019,"status":"Failing"},
{"Y":-0.025,"X":0.021,"status":"Failing"},{"Y":-0.023,"X":0.021,"status":"Failing"},{"Y":-0.021,"X":0.021,"status":"Failing"},{"Y":-0.019,"X":0.021,"status":"Failing"},{"Y":-0.017,"X":0.021,"status":"Failing"},{"Y":-0.015,"X":0.021,"status":"Failing"},{"Y":-0.013,"X":0.021,"status":"Failing"},{"Y":-0.011,"X":0.021,"status":"Failing"},{"Y":-0.009,"X":0.021,"status":"Failing"},{"Y":-0.007,"X":0.021,"status":"Failing"},{"Y":-0.005,"X":0.021,"status":"Failing"},{"Y":-0.003,"X":0.021,"status":"Failing"},{"Y":-0.001,"X":0.021,"status":"Failing"},{"Y":0.001,"X":0.021,"status":"Failing"},{"Y":0.003,"X":0.021,"status":"Failing"},{"Y":0.005,"X":0.021,"status":"Failing"},{"Y":0.007,"X":0.021,"status":"Failing"},{"Y":0.009,"X":0.021,"status":"Failing"},{"Y":0.011,"X":0.021,"status":"Failing"},{"Y":0.013,"X":0.021,"status":"Failing"},{"Y":0.015,"X":0.021,"status":"Failing"},{"Y":0.017,"X":0.021,"status":"Failing"},{"Y":0.019,"X":0.021,"status":"Failing"},{"Y":0.021,"X":0.021,"status":"Failing"},{"Y":0.023,"X":0.021,"status":"Failing"},{"Y":0.025,"X":0.021,"status":"Failing"},
{"Y":-0.025,"X":0.023,"status":"Failing"},{"Y":-0.023,"X":0.023,"status":"Failing"},{"Y":-0.021,"X":0.023,"status":"Failing"},{"Y":-0.019,"X":0.023,"status":"Failing"},{"Y":-0.017,"X":0.023,"status":"Failing"},{"Y":-0.015,"X":0.023,"status":"Failing"},{"Y":-0.013,"X":0.023,"status":"Failing"},{"Y":-0.011,"X":0.023,"status":"Failing"},{"Y":-0.009,"X":0.023,"status":"Failing"},{"Y":-0.007,"X":0.023,"status":"Failing"},{"Y":-0.005,"X":0.023,"status":"Failing"},{"Y":-0.003,"X":0.023,"status":"Failing"},{"Y":-0.001,"X":0.023,"status":"Failing"},{"Y":0.001,"X":0.023,"status":"Failing"},{"Y":0.003,"X":0.023,"status":"Failing"},{"Y":0.005,"X":0.023,"status":"Failing"},{"Y":0.007,"X":0.023,"status":"Failing"},{"Y":0.009,"X":0.023,"status":"Failing"},{"Y":0.011,"X":0.023,"status":"Failing"},{"Y":0.013,"X":0.023,"status":"Failing"},{"Y":0.015,"X":0.023,"status":"Failing"},{"Y":0.017,"X":0.023,"status":"Failing"},{"Y":0.019,"X":0.023,"status":"Failing"},{"Y":0.021,"X":0.023,"status":"Failing"},{"Y":0.023,"X":0.023,"status":"Failing"},{"Y":0.025,"X":0.023,"status":"Failing"},
{"Y":-0.025,"X":0.025,"status":"Failing"},{"Y":-0.023,"X":0.025,"status":"Failing"},{"Y":-0.021,"X":0.025,"status":"Failing"},{"Y":-0.019,"X":0.025,"status":"Failing"},{"Y":-0.017,"X":0.025,"status":"Failing"},{"Y":-0.015,"X":0.025,"status":"Failing"},{"Y":-0.013,"X":0.025,"status":"Failing"},{"Y":-0.011,"X":0.025,"status":"Failing"},{"Y":-0.009,"X":0.025,"status":"Failing"},{"Y":-0.007,"X":0.025,"status":"Failing"},{"Y":-0.005,"X":0.025,"status":"Failing"},{"Y":-0.003,"X":0.025,"status":"Failing"},{"Y":-0.001,"X":0.025,"status":"Failing"},{"Y":0.001,"X":0.025,"status":"Failing"},{"Y":0.003,"X":0.025,"status":"Failing"},{"Y":0.005,"X":0.025,"status":"Failing"},{"Y":0.007,"X":0.025,"status":"Failing"},{"Y":0.009,"X":0.025,"status":"Failing"},{"Y":0.011,"X":0.025,"status":"Failing"},{"Y":0.013,"X":0.025,"status":"Failing"},{"Y":0.015,"X":0.025,"status":"Failing"},{"Y":0.017,"X":0.025,"status":"Failing"},{"Y":0.019,"X":0.025,"status":"Failing"},{"Y":0.021,"X":0.025,"status":"Failing"},{"Y":0.023,"X":0.025,"status":"Failing"},{"Y":0.025,"X":0.025,"status":"Failing"}
]},
"mark": {"type": "rect", "width": 14, "height": 14},
"encoding": {
"x": {"field": "Y", "type": "quantitative", "scale": {"domain": [-0.0379, 0.0379], "nice": false, "zero": false},
 "axis": {"title": "Y [m]", "values": [-0.03, -0.02, -0.01, 0, 0.01, 0.02, 0.03], "format": "~g", "domain": false, "grid": true, "gridColor": "#363636", "tickColor": "#8a8a8a", "tickSize": 5, "labelPadding": 3, "labelFontSize": 12, "labelColor": "#cfcfcf", "labelFont": "Liberation Sans", "titleFont": "Liberation Sans", "titleFontSize": 12, "titleFontWeight": "normal", "titleColor": "#bdbdbd", "titleBaseline": "middle", "titleY": 44}},
"y": {"field": "X", "type": "quantitative", "scale": {"domain": [-0.026, 0.026], "nice": false, "zero": false},
 "axis": {"title": "X [m]", "values": [-0.02, -0.01, 0, 0.01, 0.02], "format": "~g", "domain": false, "grid": true, "gridColor": "#363636", "tickColor": "#8a8a8a", "tickSize": 5, "labelPadding": 3, "labelFontSize": 12, "labelColor": "#cfcfcf", "labelFont": "Liberation Sans", "titleFont": "Liberation Sans", "titleFontSize": 12, "titleFontWeight": "normal", "titleColor": "#bdbdbd", "titleAngle": -90, "titleBaseline": "middle", "titleAlign": "center", "titleX": -36, "titleY": 205}},
"color": {"field": "status", "type": "nominal", "scale": {"domain": ["Primary", "Secondary", "Failing"], "range": ["#dc3a4a", "#3d7e94", "#b8ced6"]},
 "legend": {"title": null, "orient": "none", "legendX": 621, "legendY": 60, "padding": 0, "symbolType": "M-1,-4.5H1V4.5H-1Z", "symbolSize": 841, "symbolStrokeWidth": 0, "symbolOpacity": 1, "rowPadding": 0, "labelFontSize": 12, "labelFont": "Liberation Sans", "labelColor": "#f0f0f0", "labelOffset": 4}}
}
}
